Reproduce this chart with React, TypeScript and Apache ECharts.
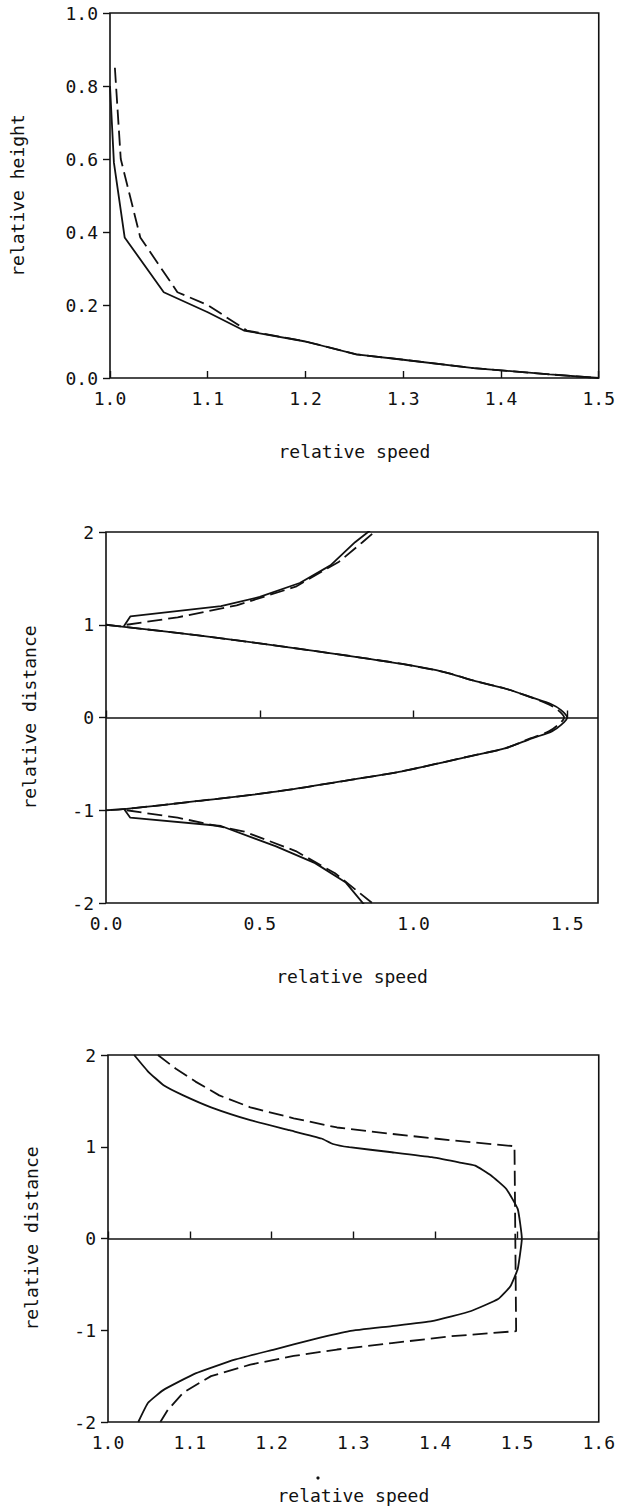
import React, { useEffect, useRef } from "react";
import * as echarts from "echarts";

// ---------- Panel 1: relative height vs relative speed ----------
const p1Solid: [number, number][] = [
  [1.0, 0.8], [1.004, 0.59], [1.015, 0.385], [1.055, 0.235], [1.1, 0.18],
  [1.137, 0.13], [1.2, 0.1], [1.252, 0.065], [1.3, 0.05], [1.372, 0.027],
  [1.45, 0.01], [1.5, 0.0],
];
const p1Dashed: [number, number][] = [
  [1.005, 0.85], [1.011, 0.6], [1.031, 0.385], [1.069, 0.235], [1.1, 0.2],
  [1.14, 0.13], [1.2, 0.1], [1.252, 0.065], [1.3, 0.05], [1.372, 0.027],
  [1.45, 0.01], [1.5, 0.0],
];

// ---------- Panel 2: relative distance vs relative speed ----------
const p2CenterSolid: [number, number][] = [
  [0.0, 1.0], [0.066, 0.975], [0.3, 0.885], [0.553, 0.775], [0.8, 0.66],
  [0.963, 0.577], [1.1, 0.49], [1.193, 0.4], [1.3, 0.31], [1.385, 0.216],
  [1.45, 0.14], [1.48, 0.08], [1.5, 0.0], [1.48, -0.08], [1.45, -0.15],
  [1.385, -0.225], [1.3, -0.33], [1.193, -0.41], [1.1, -0.48], [0.963, -0.58],
  [0.8, -0.67], [0.553, -0.8], [0.3, -0.9], [0.066, -0.985], [0.0, -1.0],
];
const p2CenterDashed: [number, number][] = [
  [0.0, 1.0], [0.066, 0.975], [0.3, 0.885], [0.553, 0.775], [0.8, 0.66],
  [0.963, 0.577], [1.1, 0.49], [1.193, 0.4], [1.3, 0.31], [1.38, 0.22],
  [1.44, 0.14], [1.47, 0.08], [1.49, 0.0], [1.47, -0.08], [1.44, -0.15],
  [1.38, -0.225], [1.3, -0.33], [1.193, -0.41], [1.1, -0.48], [0.963, -0.58],
  [0.8, -0.67], [0.553, -0.8], [0.3, -0.9], [0.066, -0.985], [0.0, -1.0],
];
const p2UpperSolid: [number, number][] = [
  [0.058, 0.984], [0.079, 1.09], [0.374, 1.2], [0.5, 1.3], [0.63, 1.45],
  [0.73, 1.64], [0.81, 1.89], [0.86, 2.02],
];
const p2UpperDashed: [number, number][] = [
  [0.067, 1.0], [0.233, 1.08], [0.425, 1.21], [0.617, 1.41], [0.758, 1.68],
  [0.834, 1.89], [0.88, 2.02],
];
const p2LowerSolid: [number, number][] = [
  [0.058, -0.984], [0.079, -1.08], [0.374, -1.17], [0.553, -1.39], [0.68, -1.57],
  [0.78, -1.78], [0.84, -2.02],
];
const p2LowerDashed: [number, number][] = [
  [0.067, -1.0], [0.233, -1.08], [0.45, -1.23], [0.617, -1.44], [0.745, -1.68],
  [0.873, -2.02],
];

// ---------- Panel 3: relative distance vs relative speed ----------
const p3Solid: [number, number][] = [
  [1.032, 2.0], [1.049, 1.82], [1.068, 1.67], [1.092, 1.56], [1.126, 1.43],
  [1.174, 1.29], [1.222, 1.18], [1.261, 1.09], [1.275, 1.03], [1.295, 0.995],
  [1.347, 0.94], [1.396, 0.886], [1.429, 0.83], [1.449, 0.795], [1.468, 0.69],
  [1.487, 0.54], [1.501, 0.32], [1.506, 0.0], [1.501, -0.33], [1.492, -0.52],
  [1.477, -0.66], [1.444, -0.79], [1.396, -0.9], [1.347, -0.955], [1.295, -1.01],
  [1.251, -1.1], [1.203, -1.21], [1.155, -1.32], [1.107, -1.47], [1.068, -1.65],
  [1.049, -1.79], [1.037, -2.0],
];
const p3Dashed: [number, number][] = [
  [1.061, 2.0], [1.083, 1.85], [1.107, 1.71], [1.136, 1.56], [1.174, 1.43],
  [1.227, 1.31], [1.28, 1.21], [1.347, 1.14], [1.42, 1.07], [1.497, 1.006],
  [1.499, -1.01], [1.42, -1.065], [1.347, -1.14], [1.28, -1.21], [1.227, -1.28],
  [1.174, -1.375], [1.126, -1.5], [1.092, -1.68], [1.073, -1.87], [1.064, -2.0],
];

const xTitle = "relative speed";
const yTitles = ["relative height", "relative distance", "relative distance"];

const INK = "#111";
const FONT = '"DejaVu Sans Mono", monospace';

export default function App() {
  const ref = useRef<HTMLDivElement>(null);
  useEffect(() => {
    if (!ref.current) return;
    const chart = echarts.init(ref.current, undefined, { renderer: "svg" });

    const grids = [
      { left: 105, top: 13, width: 494, height: 365 },
      { left: 106, top: 532, width: 492, height: 371 },
      { left: 108, top: 1055, width: 493, height: 367 },
    ].map((g) => ({
      ...g,
      show: true,
      borderColor: INK,
      borderWidth: 1.6,
      backgroundColor: "transparent",
    }));

    const xCfg = [
      { min: 1.0, max: 1.5, interval: 0.1, showMax: true },
      { min: 0, max: 1.6, interval: 0.5, showMax: false },
      { min: 1.0, max: 1.6, interval: 0.1, showMax: true },
    ];
    const yCfg = [
      { min: 0, max: 1, interval: 0.2, dec: 1, gap: 84 },
      { min: -2, max: 2, interval: 1, dec: 0, gap: 68 },
      { min: -2, max: 2, interval: 1, dec: 0, gap: 68 },
    ];

    const xAxis = xCfg.map((c, i) => ({
      type: "value",
      gridIndex: i,
      min: c.min,
      max: c.max,
      interval: c.interval,
      name: xTitle,
      nameLocation: "middle",
      nameGap: 64,
      nameTextStyle: { color: INK, fontFamily: FONT, fontSize: 18 },
      axisLine: { show: false },
      axisTick: { show: true, inside: true, length: 7, lineStyle: { color: INK, width: 1.4 } },
      splitLine: { show: false },
      axisLabel: {
        color: INK,
        fontFamily: FONT,
        fontSize: 18,
        margin: 11,
        showMaxLabel: c.showMax,
        formatter: (v: number) => v.toFixed(1),
      },
    }));

    const yAxis = yCfg.map((c, i) => ({
      type: "value",
      gridIndex: i,
      min: c.min,
      max: c.max,
      interval: c.interval,
      name: yTitles[i],
      nameLocation: "middle",
      nameGap: c.gap,
      nameTextStyle: { color: INK, fontFamily: FONT, fontSize: 18 },
      axisLine: { show: false },
      axisTick: { show: true, inside: false, length: 7, lineStyle: { color: INK, width: 1.4 } },
      splitLine: { show: false },
      axisLabel: {
        color: INK,
        fontFamily: FONT,
        fontSize: 18,
        margin: 12,
        formatter: (v: number) => v.toFixed(c.dec),
      },
    }));

    const line = (data: [number, number][], idx: number, dashed: boolean, extra: any = {}) => ({
      type: "line",
      xAxisIndex: idx,
      yAxisIndex: idx,
      data,
      showSymbol: false,
      symbol: "none",
      smooth: false,
      clip: true,
      silent: true,
      lineStyle: {
        color: INK,
        width: 1.8,
        type: dashed ? [15, 6] : "solid",
      },
      ...extra,
    });

    const zeroLine = {
      markLine: {
        silent: true,
        symbol: "none",
        label: { show: false },
        lineStyle: { color: INK, width: 1.6, type: "solid" },
        data: [{ yAxis: 0 }],
      },
    };

    chart.setOption({
      animation: false,
      grid: grids,
      xAxis,
      yAxis,
      series: [
        line(p1Solid, 0, false),
        line(p1Dashed, 0, true),
        line(p2CenterSolid, 1, false, { ...zeroLine, smooth: 0.3 }),
        line(p2CenterDashed, 1, true, { smooth: 0.3 }),
        line(p2UpperSolid, 1, false),
        line(p2UpperDashed, 1, true),
        line(p2LowerSolid, 1, false),
        line(p2LowerDashed, 1, true),
        line(p3Solid, 2, false, { ...zeroLine, smooth: 0.12 }),
        line(p3Dashed, 2, true),
      ],
      graphic: [
        { type: "circle", shape: { cx: 318, cy: 1478, r: 1.6 }, style: { fill: INK } },
      ],
    });

    return () => chart.dispose();
  }, []);

  return (
    <div
      ref={ref}
      style={{ position: "fixed", left: 0, top: 0, width: 618, height: 1506, background: "#fff" }}
    />
  );
}
